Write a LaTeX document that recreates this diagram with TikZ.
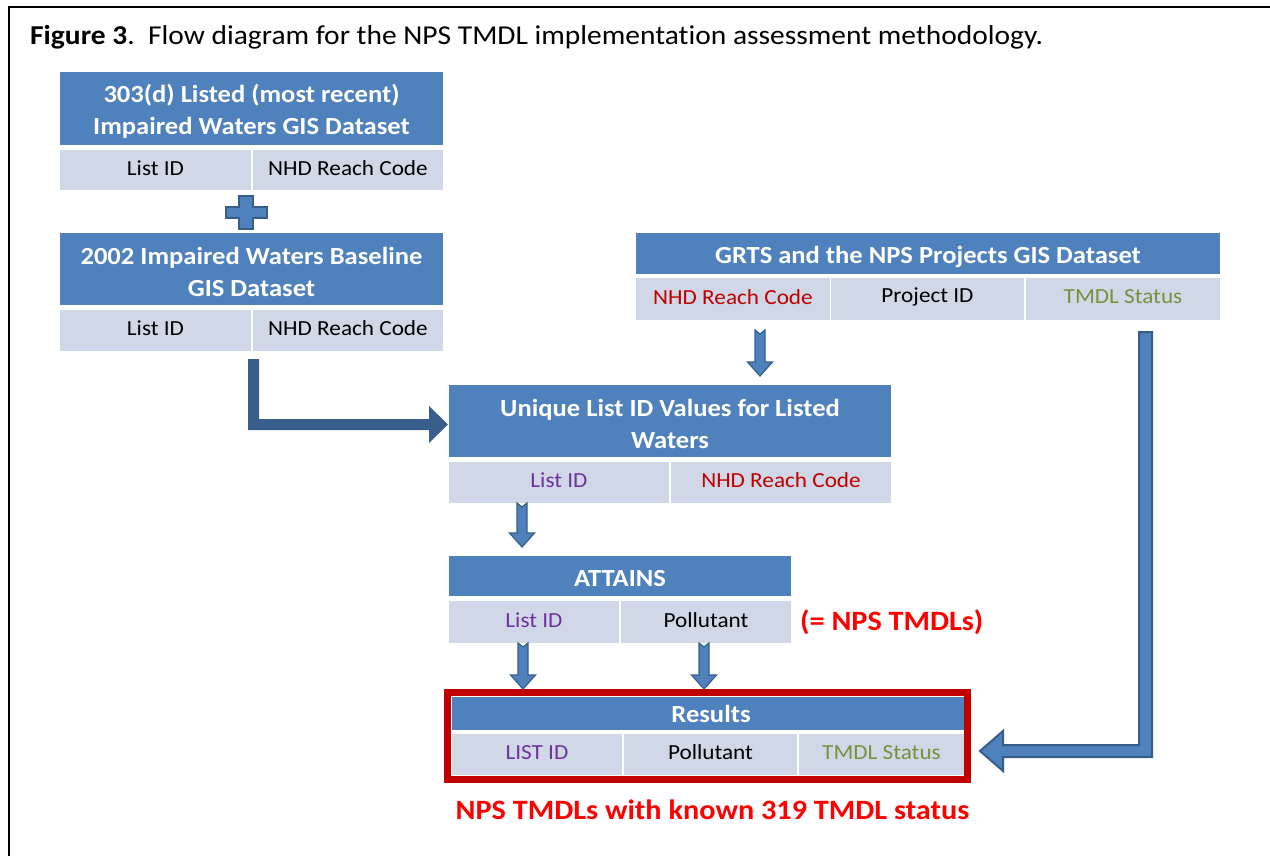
\documentclass[tikz,border=0pt]{standalone}
\usepackage{fontspec}
\setmainfont[FakeStretch=1.08, Ligatures=NoCommon]{Carlito}
\definecolor{hdrblue}{HTML}{4F81BD}
\definecolor{rowblue}{HTML}{D0D8E8}
\definecolor{arrblue}{HTML}{4F81BD}
\definecolor{arrline}{HTML}{385D8A}
\definecolor{darkarr}{HTML}{3A5E8B}
\definecolor{purp}{HTML}{7030A0}
\definecolor{dred}{HTML}{C00000}
\definecolor{olive}{HTML}{76923C}
\definecolor{brightred}{HTML}{FF0000}
\newcommand\blkdown[3]{%
  \draw[blk] (#1-5,#2) -- (#1,#2+4) -- (#1+5,#2) -- (#1+5,#3-14) -- (#1+12.5,#3-14)
    -- (#1,#3) -- (#1-12.5,#3-14) -- (#1-5,#3-14) -- cycle;}
\begin{document}
\begin{tikzpicture}[x=1pt,y=-1pt,
  hdr/.style={fill=hdrblue, inner sep=0pt, outer sep=0pt, anchor=north west},
  htxt/.style={text=white, font=\fontsize{24.6}{32}\selectfont\bfseries,
    inner sep=0pt, align=center},
  cell/.style={fill=rowblue, inner sep=0pt, outer sep=0pt, anchor=north west},
  ctxt/.style={text=black, font=\fontsize{21.5}{26}\selectfont, inner sep=0pt},
  blk/.style={fill=arrblue, draw=arrline, line width=1.2pt, line join=miter},
  note/.style={text=brightred, font=\fontsize{28}{32}\selectfont\bfseries, inner sep=0pt},
]
\useasboundingbox (0,0) rectangle (1270,856);
\begin{scope}
  \clip (0,0) rectangle (1270,856);
  \draw[line width=2.2pt] (9,7) rectangle (1300,900);
\end{scope}

% title
\node[anchor=base west, inner sep=0pt, font=\fontsize{27.3}{30}\selectfont] (title) at (30,45)
  {\textbf{Figure 3}.\ \ Flow diagram for the NPS TMDL implementation assessment methodology.};

% box 1
\node[hdr, minimum width=383pt, minimum height=73pt] (h1) at (60,72) {};
\node[htxt] (h1t) at ([yshift=-3pt]h1.center) {303(d) Listed (most recent)\\Impaired Waters GIS Dataset};
\node[cell, minimum width=191pt, minimum height=40pt] (c1a) at (60,150) {};
\node[ctxt] at ([yshift=2pt]c1a.center) {List ID};
\node[cell, minimum width=190pt, minimum height=40pt] (c1b) at (253,150) {};
\node[ctxt] at ([yshift=2pt]c1b.center) {NHD Reach Code};

% plus
\draw[blk, line width=1.5pt] (239,196) -- (253,196) -- (253,207) -- (267,207) -- (267,218)
  -- (253,218) -- (253,229) -- (239,229) -- (239,218) -- (226,218) -- (226,207) -- (239,207) -- cycle;

% box 2
\node[hdr, minimum width=383pt, minimum height=72pt] (h2) at (60,233) {};
\node[htxt] at ([yshift=-3pt]h2.center) {2002 Impaired Waters Baseline\\GIS Dataset};
\node[cell, minimum width=191pt, minimum height=41pt] (c2a) at (60,310) {};
\node[ctxt] at ([yshift=2pt]c2a.center) {List ID};
\node[cell, minimum width=190pt, minimum height=41pt] (c2b) at (253,310) {};
\node[ctxt] at ([yshift=2pt]c2b.center) {NHD Reach Code};

% GRTS
\node[hdr, minimum width=584pt, minimum height=41pt] (hg) at (636,233) {};
\node[htxt] at ([yshift=-3pt]hg.center) {GRTS and the NPS Projects GIS Dataset};
\node[cell, minimum width=194pt, minimum height=42pt] (cga) at (636,278) {};
\node[ctxt, text=dred] at ([yshift=2pt]cga.center) {NHD Reach Code};
\node[cell, minimum width=193pt, minimum height=42pt] (cgb) at (831,278) {};
\node[ctxt] at ([yshift=2pt]cgb.center) {Project ID};
\node[cell, minimum width=194pt, minimum height=42pt] (cgc) at (1026,278) {};
\node[ctxt, text=olive] at ([yshift=2pt]cgc.center) {TMDL Status};

% Unique
\node[hdr, minimum width=442pt, minimum height=72pt] (hu) at (449,385) {};
\node[htxt] at ([yshift=-3pt]hu.center) {Unique List ID Values for Listed\\Waters};
\node[cell, minimum width=220pt, minimum height=41pt] (cua) at (449,462) {};
\node[ctxt, text=purp] at ([yshift=2pt]cua.center) {List ID};
\node[cell, minimum width=220pt, minimum height=41pt] (cub) at (671,462) {};
\node[ctxt, text=dred] at ([yshift=2pt]cub.center) {NHD Reach Code};

% ATTAINS
\node[hdr, minimum width=342pt, minimum height=40pt] (ha) at (449,556) {};
\node[htxt] at ([yshift=-3pt]ha.center) {ATTAINS};
\node[cell, minimum width=170pt, minimum height=42pt] (caa) at (449,601) {};
\node[ctxt, text=purp] at ([yshift=2pt]caa.center) {List ID};
\node[cell, minimum width=170pt, minimum height=42pt] (cab) at (621,601) {};
\node[ctxt] at ([yshift=2pt]cab.center) {Pollutant};
\node[note, anchor=base west] (eq) at (800,630) {(= NPS TMDLs)};

% Results
\node[hdr, minimum width=518pt, minimum height=33pt] (hr) at (452,697) {};
\node[htxt] at ([yshift=0pt]hr.center) {Results};
\node[cell, minimum width=170pt, minimum height=41pt] (cra) at (452,734) {};
\node[ctxt, text=purp] at ([yshift=2pt]cra.center) {LIST ID};
\node[cell, minimum width=173pt, minimum height=41pt] (crb) at (624,734) {};
\node[ctxt] at ([yshift=2pt]crb.center) {Pollutant};
\node[cell, minimum width=165pt, minimum height=41pt] (crc) at (799,734) {};
\node[ctxt, text=olive] at ([yshift=2pt]crc.center) {TMDL Status};
\draw[dred, line width=7pt] (447.5,692.5) rectangle (967.5,779.5);
\node[note, anchor=base] (res) at (712.5,819) {NPS TMDLs with known 319 TMDL status};

% arrows
\fill[darkarr] (248,359) -- (259,359) -- (259,419) -- (429,419) -- (429,406) -- (448,424.5)
  -- (429,443) -- (429,430) -- (248,430) -- cycle;
\blkdown{760}{330}{376}
\blkdown{522}{503}{547}
\blkdown{523}{643}{689}
\blkdown{704}{643}{689}
\draw[blk, line width=2pt] (1139,332) -- (1152,332) -- (1152,757) -- (1003,757) -- (1003,771)
  -- (980,751) -- (1003,731) -- (1003,745) -- (1139,745) -- cycle;
\end{tikzpicture}
\end{document}
